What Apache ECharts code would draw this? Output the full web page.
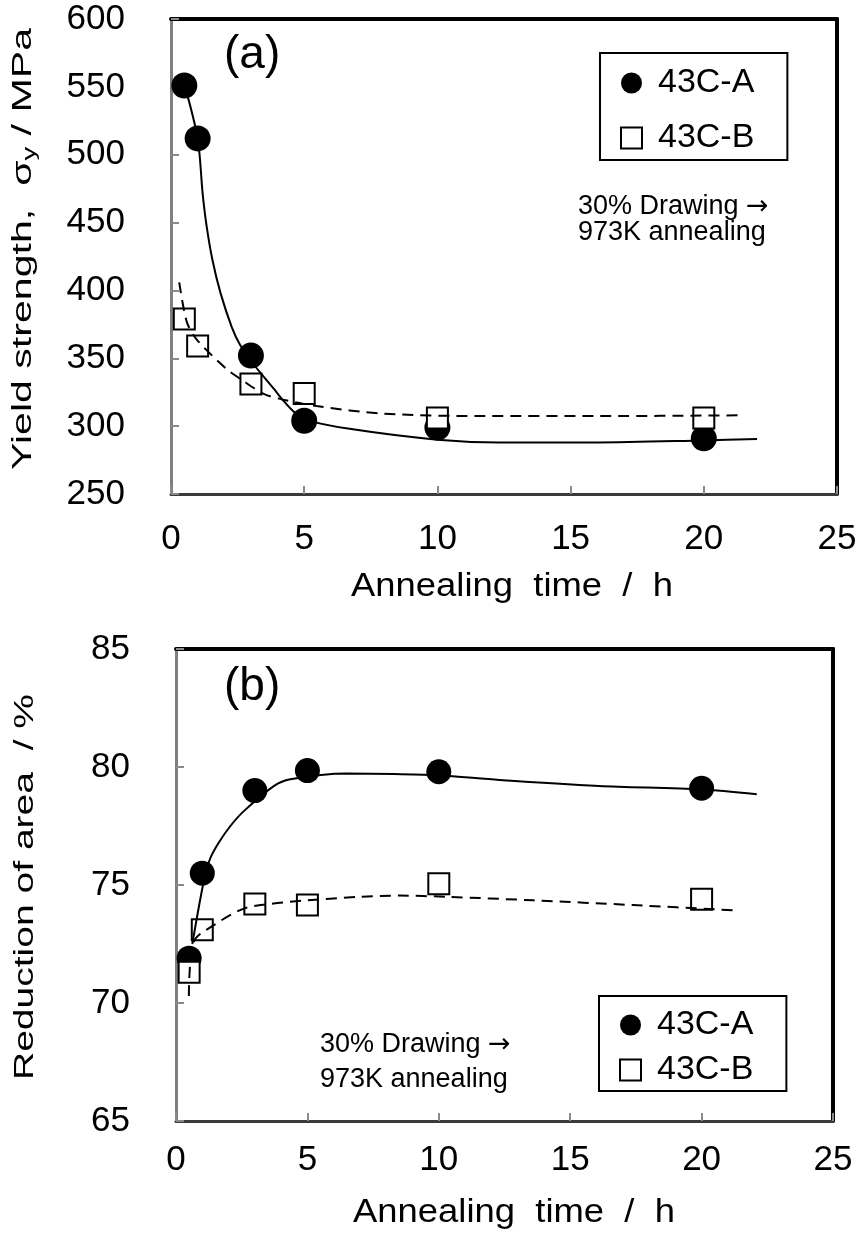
<!DOCTYPE html>
<html><head><meta charset="utf-8">
<script src="https://cdn.jsdelivr.net/npm/echarts@6/dist/echarts.min.js"></script>
<style>html,body{margin:0;padding:0;background:#fff}#c{width:861px;height:1234px}</style>
</head><body><div id="c"></div>
<script>
// ---- data ----
const timeA = [0.5, 1, 3, 5, 10, 20];
const timeB = [0.5, 1, 3, 5, 10, 20];
const yieldA = [551, 512, 352, 304, 299, 291];
const yieldB = [379, 359, 331, 324, 306, 306];
const raA = [71.9, 75.5, 79.0, 79.85, 79.8, 79.1];
const raB = [71.3, 73.1, 74.2, 74.15, 75.05, 74.4];
// fitted trend curves
const yieldFitA_x = [0.5, 1, 1.19, 1.34, 1.56, 1.86, 2.28, 2.59, 3, 3.84, 4.21, 4.59, 5, 6.7, 10, 12.3, 16, 20, 22];
const yieldFitA_y = [552, 512, 471, 447, 422, 398, 373, 360, 348, 328, 319, 311, 305, 298, 290, 288, 288, 289.5, 290.5];
const yieldFitB_x = [0.31, 0.59, 0.96, 2.09, 2.59, 3.46, 4.21, 5.46, 7.96, 11.7, 16, 21.4];
const yieldFitB_y = [406, 377, 364, 342, 335, 324, 319.5, 314.8, 309.2, 307.4, 307.4, 308];
const raFitA_x = [0.62, 1.1, 1.31, 1.63, 2.07, 2.58, 3.72, 4.35, 6.5, 8.3, 10, 12.3, 16.1, 20, 22.1];
const raFitA_y = [72.5, 75.4, 76.15, 76.8, 77.5, 78.13, 79.19, 79.48, 79.72, 79.7, 79.65, 79.45, 79.2, 79.05, 78.85];
const raFitB_x = [0.49, 0.68, 1.44, 2.58, 3.6, 5, 7, 8.5, 10.3, 13.6, 17.4, 21.2];
const raFitB_y = [70.3, 72.6, 73.3, 74.0, 74.2, 74.35, 74.5, 74.55, 74.5, 74.35, 74.15, 73.93];
const xRange = [0, 25, 5];
const yieldRange = [250, 600, 50];
const raRange = [65, 85, 5];
const seriesNames = ['43C-A', '43C-B'];

const FONT = 'Liberation Sans, Arial, sans-serif';
const zip = (xs, ys) => xs.map((x, i) => [x, ys[i]]);

function measure(txt, size) {
  const c = document.createElement('canvas').getContext('2d');
  c.font = size + 'px Liberation Sans';
  return c.measureText(txt).width;
}

function mainX(g, margin) {
  return {type: 'value', gridIndex: g, min: xRange[0], max: xRange[1], interval: xRange[2],
    axisLine: {show: true, onZero: false, lineStyle: {color: '#3a3a3a', width: 3}},
    axisTick: {show: true, inside: true, length: 8, lineStyle: {color: '#8a8a8a', width: 2}},
    axisLabel: {fontSize: 35, fontFamily: FONT, color: '#000', margin: margin},
    splitLine: {show: false}};
}
function borderX(g) {
  return {type: 'value', gridIndex: g, position: 'top', min: xRange[0], max: xRange[1],
    axisLine: {show: true, onZero: false, lineStyle: {color: '#000', width: 4}},
    axisTick: {show: false}, axisLabel: {show: false}, splitLine: {show: false}};
}
function mainY(g, r, margin) {
  return {type: 'value', gridIndex: g, min: r[0], max: r[1], interval: r[2],
    axisLine: {show: true, onZero: false, lineStyle: {color: '#7f7f7f', width: 3}},
    axisTick: {show: true, inside: true, length: 8, lineStyle: {color: '#8a8a8a', width: 2}},
    axisLabel: {fontSize: 35, fontFamily: FONT, color: '#000', margin: margin},
    splitLine: {show: false}};
}
function borderY(g, r) {
  return {type: 'value', gridIndex: g, position: 'right', min: r[0], max: r[1],
    axisLine: {show: true, onZero: false, lineStyle: {color: '#000', width: 4}},
    axisTick: {show: false}, axisLabel: {show: false}, splitLine: {show: false}};
}
function scatterA(xi, yi, xs, ys, size) {
  return {name: seriesNames[0], type: 'scatter', xAxisIndex: xi, yAxisIndex: yi, data: zip(xs, ys),
    symbol: 'circle', symbolSize: size, itemStyle: {color: '#000', opacity: 1}, z: 3};
}
function scatterB(xi, yi, xs, ys) {
  return {name: seriesNames[1], type: 'scatter', xAxisIndex: xi, yAxisIndex: yi, data: zip(xs, ys),
    symbol: 'rect', symbolSize: 21, itemStyle: {color: '#fff', borderColor: '#000', borderWidth: 2, opacity: 1}, z: 4};
}
function fit(xi, yi, xs, ys, dashed) {
  return {name: dashed ? 'fitB' : 'fitA', type: 'line', xAxisIndex: xi, yAxisIndex: yi, data: zip(xs, ys),
    showSymbol: false, symbol: 'none', smooth: 0.3,
    lineStyle: {color: '#000', width: 2, type: dashed ? [11, 7] : 'solid'}, z: 5, silent: true};
}
function legend(left, top, gap, pad) {
  return {left: left, top: top, orient: 'vertical', data: seriesNames, itemWidth: 21, itemHeight: 21,
    itemGap: gap, padding: pad, borderColor: '#000', borderWidth: 2, backgroundColor: '#fff',
    selectedMode: false,
    textStyle: {fontSize: 34, fontFamily: FONT, color: '#000', lineHeight: 34, padding: [0, 0, 0, 11]}};
}

// axis title geometry
const yTitle1 = 'Yield strength,  σ', yTitle1b = ' / MPa';
const yTitle1W = measure(yTitle1, 27) + measure('y', 18) + measure(yTitle1b, 27);
const yTitle2 = 'Reduction of area  / %';
const yTitle2W = measure(yTitle2, 27);
const xTitle = 'Annealing  time  /  h';
const xTitleW = measure(xTitle, 33);

function note(x, y, lh) {
  return {type: 'text', x: x, y: y, silent: true,
    style: {text: '30% Drawing {ar|→}\n973K annealing', fontSize: 27, fontFamily: FONT, fill: '#000',
      align: 'left', verticalAlign: 'middle', lineHeight: lh,
      rich: {ar: {fontSize: 27, fontFamily: 'DejaVu Sans', fill: '#000', lineHeight: lh}}}};
}

const option = {
  animation: false,
  backgroundColor: '#fff',
  grid: [
    {left: 171, right: 24, top: 19, height: 475, containLabel: false},
    {left: 176, right: 28, top: 649, height: 472, containLabel: false}
  ],
  xAxis: [mainX(0, 28), borderX(0), mainX(1, 22), borderX(1)],
  yAxis: [mainY(0, yieldRange, 46), borderY(0, yieldRange), mainY(1, raRange, 46), borderY(1, raRange)],
  legend: [legend(600, 53, 21, [13, 33, 5, 20]), legend(599, 996, 11, [12, 33, 4, 20])],
  series: [
    scatterA(0, 0, timeA, yieldA, 26),
    scatterB(0, 0, timeB, yieldB),
    fit(0, 0, yieldFitA_x, yieldFitA_y, false),
    fit(0, 0, yieldFitB_x, yieldFitB_y, true),
    scatterA(2, 2, timeA, raA, 25),
    scatterB(2, 2, timeB, raB),
    fit(2, 2, raFitA_x, raFitA_y, false),
    fit(2, 2, raFitB_x, raFitB_y, true)
  ],
  graphic: [
    {type: 'text', x: 224, y: 55, silent: true, style: {text: '(a)', fontSize: 46, fontFamily: FONT, fill: '#000', align: 'left', verticalAlign: 'middle'}},
    {type: 'text', x: 224, y: 687, silent: true, style: {text: '(b)', fontSize: 46, fontFamily: FONT, fill: '#000', align: 'left', verticalAlign: 'middle'}},
    note(578, 220, 26),
    note(320, 1062, 35),
    // x-axis titles
    {type: 'text', x: 512, y: 587, scaleX: 322 / xTitleW, silent: true,
      style: {text: xTitle, fontSize: 33, fontFamily: FONT, fill: '#000', align: 'center', verticalAlign: 'middle'}},
    {type: 'text', x: 514, y: 1213, scaleX: 322 / xTitleW, silent: true,
      style: {text: xTitle, fontSize: 33, fontFamily: FONT, fill: '#000', align: 'center', verticalAlign: 'middle'}},
    // y-axis titles
    {type: 'text', x: 24, y: 249, rotation: Math.PI / 2, scaleX: 442 / yTitle1W, silent: true,
      style: {text: yTitle1 + '{s|y}' + yTitle1b, fontSize: 27, fontFamily: FONT, fill: '#000',
        align: 'center', verticalAlign: 'middle',
        rich: {s: {fontSize: 18, fontFamily: FONT, fill: '#000', padding: [12, 0, 0, 0]}}}},
    {type: 'text', x: 26, y: 887, rotation: Math.PI / 2, scaleX: 386 / yTitle2W, silent: true,
      style: {text: yTitle2, fontSize: 27, fontFamily: FONT, fill: '#000', align: 'center', verticalAlign: 'middle'}}
  ]
};
const chart = echarts.init(document.getElementById('c'));
chart.setOption(option);
</script>
</body></html>
